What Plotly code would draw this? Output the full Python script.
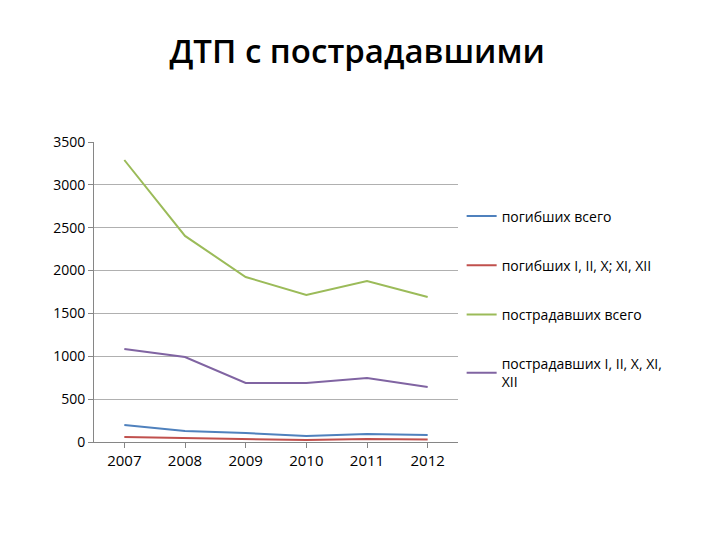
import plotly.graph_objects as go

years = ["2007", "2008", "2009", "2010", "2011", "2012"]
killed_total = [198, 128, 105, 70, 93, 82]
killed_groups = [58, 47, 35, 23, 35, 28]
injured_total = [3290, 2404, 1925, 1715, 1879, 1692]
injured_groups = [1085, 992, 688, 688, 747, 642]

names = ["погибших всего", "погибших I, II, X; XI, XII", "пострадавших всего",
         "пострадавших I, II, X, XI,<br>XII"]
colors = ["#4F81BD", "#C0504D", "#9BBB59", "#8064A2"]
series = [killed_total, killed_groups, injured_total, injured_groups]

fig = go.Figure()
for i, (n, c, s) in enumerate(zip(names, colors, series)):
    fig.add_trace(go.Scatter(x=years, y=s, name=n, mode="lines", legendgroup=str(i),
                             line=dict(color=c, width=2)))

fig.update_layout(
    width=720, height=540, paper_bgcolor="white", plot_bgcolor="white",
    margin=dict(l=86, r=270, t=134, b=106),
    font=dict(family="Open Sans, Liberation Sans", size=14, color="#000"),
    title=dict(text="ДТП с пострадавшими", x=0.485, xanchor="center",
               y=0.92, yanchor="middle", font=dict(size=33, weight=600)),
    xaxis=dict(type="category", range=[-0.5, 5.5], showline=True, linecolor="#868686",
               ticks="outside", ticklen=5, tickcolor="#868686",
               tickfont=dict(size=15)),
    yaxis=dict(range=[0, 3500], dtick=500, showgrid=True, gridcolor="#b0b0b0",
               showline=True, linecolor="#868686", ticks="outside", ticklen=5,
               tickcolor="#868686", tickfont=dict(size=14), zeroline=False),
    legend=dict(x=1.01, xanchor="left", y=0.805, yanchor="top",
                font=dict(size=14), tracegroupgap=28, itemwidth=30),
)
fig.write_html("out.html")
